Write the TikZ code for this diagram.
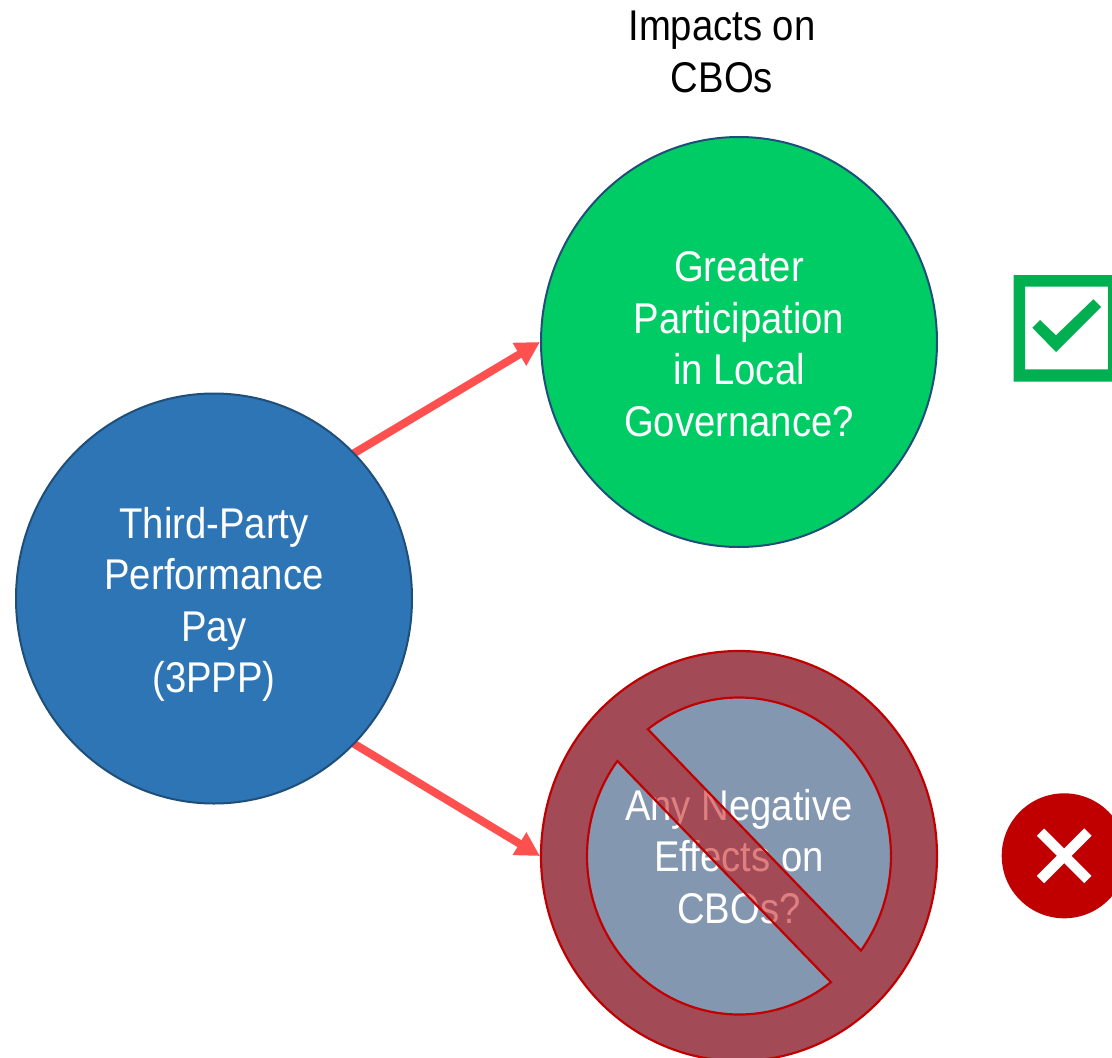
\documentclass[tikz,border=0pt]{standalone}
\usepackage{fontspec}
\setmainfont[FakeStretch=0.89]{Liberation Sans}
\usetikzlibrary{shapes.geometric,arrows.meta,backgrounds}
\definecolor{bluefill}{HTML}{2E75B6}
\definecolor{edgeblue}{HTML}{1F4E79}
\definecolor{greenfill}{HTML}{00CC66}
\definecolor{mutedfill}{HTML}{8497B0}
\definecolor{darkred}{HTML}{C00000}
\definecolor{arrowred}{HTML}{FF5050}
\definecolor{checkgreen}{HTML}{00B050}
\tikzset{
  txt/.style={font=\fontsize{43}{51.5}\selectfont,align=center},
  bubble/.style={ellipse,draw=edgeblue,line width=2pt,minimum width=396pt,minimum height=410pt,inner sep=0pt,text=white,txt},
  link/.style={draw=arrowred,line width=8pt,-{Triangle[length=24pt,width=25pt]},shorten <=-4pt},
}
\begin{document}
\begin{tikzpicture}[x=1pt,y=-1pt]
\clip (0,0) rectangle (1112,1058);
\node[txt,text=black] (title) at (722,52) {Impacts on\\CBOs};
\node[bubble,fill=bluefill] (blue) at (214,598.5) {\rule{0pt}{43pt}Third-Party\\Performance\\Pay\\(3PPP)};
\node[bubble,fill=greenfill] (green) at (739,342) {\rule{0pt}{34pt}Greater\\Participation\\in Local\\Governance?};
\node[bubble,fill=mutedfill,draw=none] (neg) at (739,856) {\rule{0pt}{32pt}Any Negative\\Effects on\\CBOs?};
\begin{scope}[on background layer]
\fill[white] (0,0) rectangle (1112,1058);
\draw[link] (blue.46) -- (green.west);
\draw[link] (blue.-46) -- (neg.west);
\end{scope}
% prohibition sign
\path[fill=darkred,fill opacity=0.5,draw=darkred,draw opacity=1,line width=2.2pt,even odd rule]
  (739,856) ellipse [x radius=198,y radius=205]
  (647.8,729.2) arc[start angle=233.13,end angle=396.64,x radius=152,y radius=158.5] -- cycle
  (830.96,982.2) arc[start angle=52.77,end angle=216.84,x radius=152,y radius=158.5] -- cycle;
% check box icon
\path[fill=checkgreen,even odd rule]
  (1013.5,275) rectangle (1119.5,381.7)
  (1025,286.7) rectangle (1108,369.3);
\fill[checkgreen] (1032.3,327.7) -- (1040,320) -- (1056,335.3) -- (1093.3,299.3) -- (1101,307) -- (1056,352) -- cycle;
% cross icon
\fill[darkred] (1064.2,855.8) ellipse [x radius=62.5,y radius=62.5];
\draw[white,line width=10.3pt] (1040.5,832.1) -- (1087.9,879.5);
\draw[white,line width=10.3pt] (1040.5,879.5) -- (1087.9,832.1);
\end{tikzpicture}
\end{document}
